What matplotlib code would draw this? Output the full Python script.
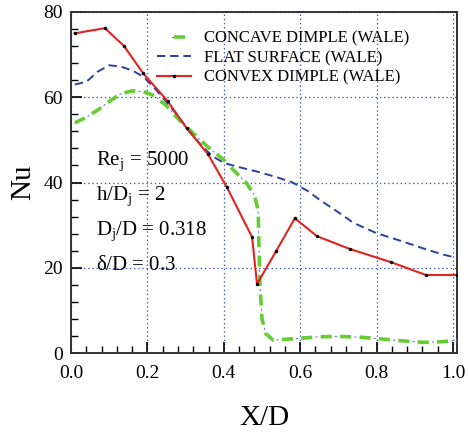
import matplotlib
matplotlib.use('Agg')
import matplotlib.pyplot as plt
from matplotlib.legend_handler import HandlerTuple

# data
x_flat = [0.01, 0.04, 0.07, 0.10, 0.13, 0.16, 0.19, 0.22, 0.253, 0.28, 0.31, 0.34, 0.37, 0.40,
          0.44, 0.49, 0.54, 0.58, 0.62, 0.65, 0.70, 0.74, 0.80, 0.86, 0.92, 0.97, 1.01]
nu_flat = [63.0, 63.6, 66.0, 67.5, 67.2, 66.3, 64.8, 62.0, 58.6, 55.6, 52.0, 48.8, 46.2, 44.6,
           43.6, 42.5, 41.2, 40.0, 38.0, 36.0, 33.0, 30.5, 28.1, 26.4, 24.6, 23.2, 22.3]

x_concave = [0.01, 0.04, 0.07, 0.10, 0.13, 0.16, 0.19, 0.22, 0.25, 0.28, 0.32, 0.36, 0.40, 0.43,
             0.46, 0.48, 0.49, 0.492, 0.495, 0.50, 0.51, 0.53, 0.59, 0.65, 0.70, 0.76, 0.80,
             0.86, 0.92, 0.96, 1.01]
nu_concave = [54.0, 55.3, 57.0, 59.0, 60.8, 61.5, 61.3, 60.3, 58.0, 55.0, 51.5, 48.2, 45.3, 42.5,
              39.8, 37.0, 33.5, 25.0, 15.5, 8.0, 4.5, 3.0, 3.4, 3.8, 3.9, 3.7, 3.4,
              2.9, 2.5, 2.6, 2.9]

x_convex = [0.01, 0.089, 0.139, 0.189, 0.253, 0.303, 0.359, 0.408, 0.474, 0.487, 0.537,
            0.586, 0.644, 0.730, 0.838, 0.929, 1.01]
nu_convex = [75.0, 76.2, 72.0, 65.6, 59.1, 52.7, 46.6, 38.9, 27.2, 16.2, 23.9,
             31.6, 27.4, 24.4, 21.3, 18.3, 18.3]

labels = ['CONCAVE DIMPLE (WALE)', 'FLAT SURFACE (WALE)', 'CONVEX DIMPLE (WALE)']

plt.rcParams['font.family'] = 'Liberation Serif'
plt.rcParams['mathtext.fontset'] = 'custom'
plt.rcParams['mathtext.rm'] = 'Liberation Serif'
plt.rcParams['mathtext.it'] = 'Liberation Serif'
plt.rcParams['lines.scale_dashes'] = False

fig = plt.figure(figsize=(4.68, 4.34), dpi=100)
ax = fig.add_axes([71/468, 1-353/434, 386/468, 341/434])

# concave: thick green dashes with thin blue dots between them
c_dot, = ax.plot(x_concave, nu_concave, color='#5a7fd0', lw=0.8, ls=(3.75, (1.5, 12.5)), zorder=3)
c_dash, = ax.plot(x_concave, nu_concave, color='#66cc33', lw=2.6, ls=(0, (8, 6)), zorder=3)
f_line, = ax.plot(x_flat, nu_flat, color='#2b3fa0', lw=1.4, ls=(0, (6, 3.5)), zorder=3)
r_line, = ax.plot(x_convex, nu_convex, color='#e3231f', lw=1.5, marker='.', markersize=3,
                  markerfacecolor='black', markeredgecolor='black', zorder=4)

ax.set_xlim(0, 1.0105)
ax.set_ylim(0, 80)
ax.set_xticks([0.0, 0.2, 0.4, 0.6, 0.8, 1.0])
ax.set_xticklabels(['0.0', '0.2', '0.4', '0.6', '0.8', '1.0'])
ax.set_yticks([0, 20, 40, 60, 80])
ax.set_xticks([i * 0.04 for i in range(26)], minor=True)
ax.set_yticks([i * 4 for i in range(21)], minor=True)
ax.tick_params(which='major', direction='in', length=8, width=1.2, labelsize=14)
ax.tick_params(axis='x', which='major', pad=9)
ax.tick_params(axis='y', which='major', pad=6)
ax.tick_params(which='minor', direction='in', length=5, width=1.0)
ax.grid(True, which='major', color='#3a55c0', ls=(0, (1, 2)), lw=0.9)
for s in ax.spines.values():
    s.set_linewidth(1.4)
    s.set_color('#333333')

ax.set_xlabel('X/D', fontsize=21, labelpad=16)
ax.set_ylabel('Nu', fontsize=21, labelpad=5)

ax.text(0.065, 44.1, r'$\mathregular{Re_j}$ = 5000', fontsize=15)
ax.text(0.065, 35.9, r'$\mathregular{h/D_j}$ = 2', fontsize=15)
ax.text(0.065, 27.7, r'$\mathregular{D_j/D}$ = 0.318', fontsize=15)
ax.text(0.065, 19.5, r'$\mathregular{\delta/D}$ = 0.3', fontsize=15)

ax.legend([(c_dot, c_dash), f_line, r_line], labels,
          handler_map={tuple: HandlerTuple(ndivide=None, pad=0)},
          loc='upper left', bbox_to_anchor=(0.185, 0.99), frameon=False,
          fontsize=12, handlelength=2.0, handletextpad=0.8, labelspacing=0.22)

fig.savefig('out.png', dpi=100)
